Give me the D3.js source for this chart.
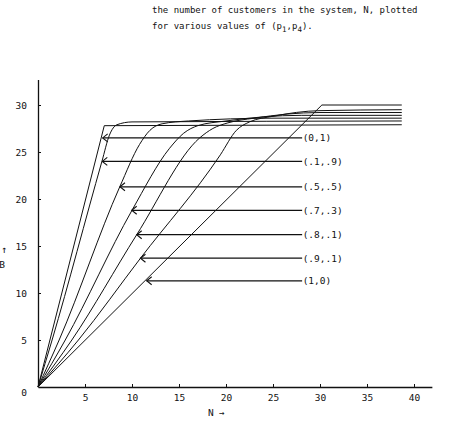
<!DOCTYPE html>
<html>
<head>
<meta charset="utf-8">
<script src="https://cdn.jsdelivr.net/npm/d3@7"></script>
<style>
html,body{margin:0;padding:0;background:#fff;}
svg{display:block;}
text{font-family:"DejaVu Sans Mono",monospace;fill:#111;}
</style>
</head>
<body>
<svg id="chart" width="457" height="425"></svg>
<script>
// ---- data ----
const seriesLabels = ["(0,1)", "(.1,.9)", "(.5,.5)", "(.7,.3)", "(.8,.1)", "(.9,.1)", "(1,0)"];
const s01  = [[0,0],[7.05,27.8],[38.7,27.9]];
const s19  = [[0,0],[1.5,5],[6.8,24],[7.6,26.8],[8.4,27.9],[10,28.2],[38.7,28.3]];
const s55  = [[0,0],[2.25,5],[8.7,21.3],[10.8,25.8],[11.9,27.3],[13.2,28.0],[16,28.3],[25,28.6],[38.7,28.6]];
const s73  = [[0,0],[2.9,5],[10,18.8],[14,25.4],[15.5,27.0],[17,27.8],[20,28.3],[28,28.9],[38.7,28.9]];
const s81  = [[0,0],[3.6,5],[10.5,16.2],[17.2,26.5],[18.6,27.5],[20.2,28.1],[23,28.6],[30,29.2],[38.7,29.2]];
const s91  = [[0,0],[4.3,5],[10.9,13.7],[19.4,24.7],[21.1,27.3],[22.5,28.2],[25,28.8],[30,29.4],[38.7,29.5]];
const s10  = [[0,0],[30.2,30],[38.7,30]];
const seriesData = [s01, s19, s55, s73, s81, s91, s10];
const sharpCorner = [true, false, false, false, false, false, true];
const arrowTipN = [6.88, 6.84, 8.72, 9.97, 10.5, 10.9, 11.56];
const arrowTipV = [26.5, 24.0, 21.3, 18.8, 16.2, 13.7, 11.3];
const xTicks = [5, 10, 15, 20, 25, 30, 35, 40];
const yTicks = [0, 5, 10, 15, 20, 25, 30];
const titleLine1 = "the number of customers in the system, N, plotted";

// ---- scales ----
const svg = d3.select("#chart");
const x = d3.scaleLinear().domain([0, 41.9]).range([38, 38 + 41.9 * 9.4]);
const y = d3.scaleLinear().domain([0, 32.7]).range([387, 387 - 32.7 * 9.4]);

// ---- title ----
svg.append("text").attr("x", 152).attr("y", 13).attr("font-size", 9).text(titleLine1);
const t2 = svg.append("text").attr("x", 152).attr("y", 29).attr("font-size", 9);
t2.append("tspan").text("for various values of (p");
t2.append("tspan").attr("dy", 3).attr("font-size", 7.5).text("1");
t2.append("tspan").attr("dy", -3).text(",p");
t2.append("tspan").attr("dy", 3).attr("font-size", 7.5).text("4");
t2.append("tspan").attr("dy", -3).text(").");

// ---- axes ----
const xAxis = d3.axisBottom(x).tickValues(xTicks).tickSize(-3).tickSizeOuter(0).tickPadding(7)
  .tickFormat(d3.format("d"));
const gx = svg.append("g").attr("transform", `translate(0,${y(0)})`).call(xAxis);
gx.select(".domain").attr("stroke", "#111").attr("stroke-width", 1.3);
gx.selectAll(".tick line").attr("stroke", "#111");
gx.selectAll(".tick text").attr("font-size", 9.5).attr("font-family", "DejaVu Sans Mono").attr("fill", "#111");

const yAxis = d3.axisLeft(y).tickValues(yTicks).tickSize(-3).tickSizeOuter(0).tickPadding(11)
  .tickFormat(d3.format("d"));
const gy = svg.append("g").attr("transform", `translate(${x(0)},0)`).call(yAxis);
gy.select(".domain").attr("stroke", "#111").attr("stroke-width", 1.3);
gy.selectAll(".tick line").attr("stroke", "#111");
gy.selectAll(".tick text").attr("font-size", 9.5).attr("font-family", "DejaVu Sans Mono").attr("fill", "#111")
  .attr("dy", d => d === 0 ? "0.9em" : "0.32em");
gy.selectAll(".tick").filter(d => d === 0).select("line").remove();

// axis titles
svg.append("text").attr("x", 4).attr("y", 253).attr("font-size", 10).attr("text-anchor", "middle").text("↑");
svg.append("text").attr("x", 2).attr("y", 268).attr("font-size", 9.5).attr("text-anchor", "middle").text("B");
svg.append("text").attr("x", 208).attr("y", 416).attr("font-size", 9.5).text("N");
svg.append("text").attr("x", 219).attr("y", 416).attr("font-size", 9).text("→");

// ---- curves ----
seriesData.forEach((pts, i) => {
  const line = d3.line().x(d => x(d[0])).y(d => y(d[1]))
    .curve(sharpCorner[i] ? d3.curveLinear : d3.curveMonotoneX);
  svg.append("path").attr("d", line(pts)).attr("fill", "none")
    .attr("stroke", "#111").attr("stroke-width", 1);
});

// ---- arrows + labels ----
const labelX = x(28.1);
seriesLabels.forEach((lab, i) => {
  const tx = x(arrowTipN[i]), ty = y(arrowTipV[i]);
  svg.append("line").attr("x1", tx).attr("y1", ty).attr("x2", labelX).attr("y2", ty)
    .attr("stroke", "#111").attr("stroke-width", 1.2);
  svg.append("path").attr("d", `M${tx + 5},${ty - 4}L${tx},${ty}L${tx + 5},${ty + 4}`)
    .attr("fill", "none").attr("stroke", "#111").attr("stroke-width", 1.1);
  svg.append("text").attr("x", labelX + 0.5).attr("y", ty + 3.5).attr("font-size", 9.5).text(lab);
});
</script>
</body>
</html>
